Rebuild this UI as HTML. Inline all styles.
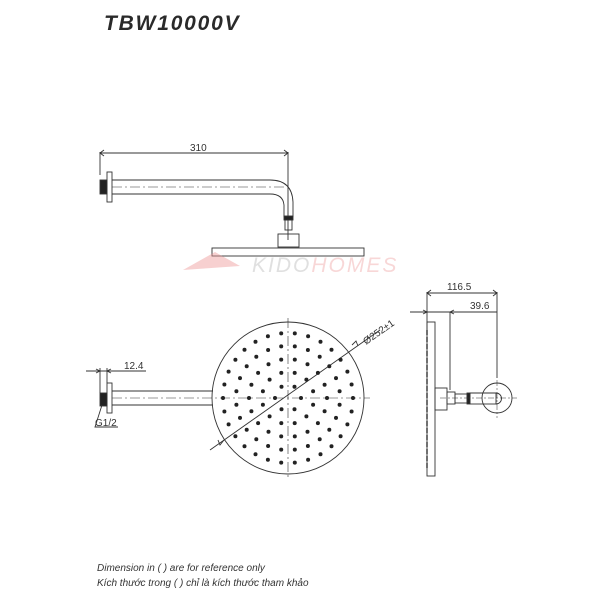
<!DOCTYPE html>
<html><head><meta charset="utf-8"><style>
html,body{margin:0;padding:0;background:#fff;width:600px;height:600px;overflow:hidden}
svg{display:block}
text{font-family:"Liberation Sans",sans-serif;fill:#333}
</style></head><body>
<svg id="s" width="600" height="600" viewBox="0 0 600 600" xmlns="http://www.w3.org/2000/svg">
<text x="104" y="30" font-size="21" font-weight="bold" font-style="italic" letter-spacing="1.8" style="fill:#2a2a2a">TBW10000V</text>

<!-- TOP VIEW -->
<g stroke="#333" stroke-width="0.9" fill="none">
  <line x1="100" y1="152" x2="100" y2="175"/>
  <line x1="288" y1="152" x2="288" y2="240"/>
  <line x1="100" y1="153" x2="288" y2="153"/>
  <path d="M104 150 L100 153 L104 156 M284 150 L288 153 L284 156"/>
  <rect x="107" y="172" width="5" height="30" fill="#fff"/>
  <rect x="100" y="180" width="7" height="14" fill="#222"/>
  <path d="M112 180 L270 180 Q292 180 293 202 L293 217 M112 194 L270 194 Q283 194 284 205 L284 217"/>
  <rect x="284" y="216" width="9" height="4" fill="#222"/>
  <rect x="285" y="220" width="7" height="10"/>
  <rect x="278" y="234" width="21" height="13"/>
  <rect x="212" y="248" width="152" height="8"/>
  <line x1="112" y1="187" x2="285" y2="187" stroke-dasharray="10 3 2 3" stroke-width="0.6"/>
</g>
<g opacity="0.45">
  <path d="M183 270 L215 252 L240 266 Z" fill="#e99"/>
  <text x="252" y="272" font-size="21" font-style="italic" letter-spacing="2" style="fill:#bbb">KIDO<tspan style="fill:#f0a8a8">HOMES</tspan></text>
</g>

<!-- FRONT VIEW -->
<g stroke="#333" stroke-width="0.9" fill="none">
  <circle cx="288" cy="398" r="76"/>
  <line x1="288" y1="318" x2="288" y2="480" stroke-dasharray="10 3 2 3" stroke-width="0.6"/>
  <line x1="112" y1="398" x2="370" y2="398" stroke-dasharray="10 3 2 3" stroke-width="0.6"/>
  <line x1="210" y1="450" x2="380" y2="330"/>
  <path d="M352 345 L356 341 L358 346"/>
  <path d="M224 440 L220 445 L218 440"/>
  <line x1="112" y1="391" x2="213" y2="391"/>
  <line x1="112" y1="405" x2="213" y2="405"/>
  <rect x="107" y="383" width="5" height="30" fill="#fff"/>
  <rect x="100" y="393" width="7" height="13" fill="#222"/>
  <line x1="100" y1="368" x2="100" y2="393"/>
  <line x1="107" y1="368" x2="107" y2="383"/>
  <line x1="86" y1="371" x2="146" y2="371"/>
  <path d="M96 369 L100 371 L96 373 M111 369 L107 371 L111 373"/>
  <path d="M102 405 L95 427 L118 427"/>
</g>
<text x="124" y="369" font-size="10">12.4</text>
<text x="95" y="426" font-size="10">G1/2</text>
<text x="190" y="151" font-size="10">310</text>
<text x="0" y="0" font-size="10" transform="translate(366,345) rotate(-35)">Ø252±1</text>
<g id="dots" fill="#222"></g>

<!-- SIDE VIEW -->
<g stroke="#333" stroke-width="0.9" fill="none">
  <line x1="427" y1="292" x2="427" y2="330"/>
  <line x1="497" y1="292" x2="497" y2="378"/>
  <line x1="427" y1="293" x2="497" y2="293"/>
  <path d="M431 290 L427 293 L431 296 M493 290 L497 293 L493 296"/>
  <line x1="410" y1="312" x2="497" y2="312"/>
  <line x1="450" y1="312" x2="450" y2="390"/>
  <path d="M423 310 L427 312 L423 314 M454 310 L450 312 L454 314"/>
  <rect x="427" y="322" width="8" height="154"/>
  <line x1="427" y1="330" x2="427" y2="470" stroke-dasharray="5 2" stroke-width="1.4" stroke="#333"/>
  <rect x="435" y="388" width="12" height="22"/>
  <rect x="447" y="392" width="8" height="12"/>
  <rect x="455" y="394" width="12" height="9"/>
  <rect x="467" y="393" width="3" height="11" fill="#222"/>
  <rect x="470" y="393" width="26" height="11"/>
  <circle cx="497" cy="398" r="15"/>
  <path d="M470 393 L496 393 A5.5 5.5 0 0 1 496 404"/>
  <line x1="440" y1="398" x2="517" y2="398" stroke-dasharray="6 2 2 2" stroke-width="0.5"/>
  <line x1="497" y1="380" x2="497" y2="418" stroke-dasharray="6 2 2 2" stroke-width="0.5"/>
</g>
<text x="447" y="290" font-size="10">116.5</text>
<text x="470" y="309" font-size="10">39.6</text>

<text x="97" y="571" font-size="10" font-style="italic">Dimension in ( ) are for reference only</text>
<text x="97" y="586" font-size="10" font-style="italic">Kích thước trong ( ) chỉ là kích thước tham khảo</text>
</svg>
<script>
var g=document.getElementById('dots'),ns='http://www.w3.org/2000/svg';
function d(x,y){var c=document.createElementNS(ns,'circle');c.setAttribute('cx',x.toFixed(1));c.setAttribute('cy',y.toFixed(1));c.setAttribute('r','2');g.appendChild(c);}
var rings=[[13,6],[26,12],[39,18],[52,24],[65,30]];
rings.forEach(function(r,i){for(var k=0;k<r[1];k++){var a=2*Math.PI*k/r[1]+(i%2?Math.PI/r[1]:0);d(288+r[0]*Math.cos(a),398+r[0]*Math.sin(a));}});
</script>
</body></html>
